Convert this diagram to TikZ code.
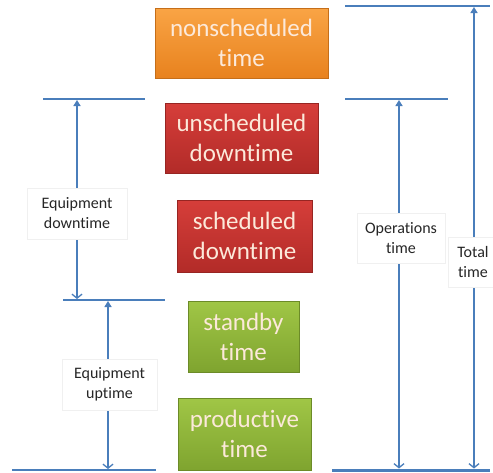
\documentclass[tikz,border=0pt]{standalone}
\usepackage{fontspec}
\setmainfont[RawFeature={-liga;-clig;-calt;-dlig}]{Carlito}
\usetikzlibrary{arrows.meta}
\definecolor{lineblue}{HTML}{4A7EBB}
\definecolor{boxtext}{HTML}{FCE9DA}
\definecolor{labeltext}{HTML}{262626}
\definecolor{orangetop}{HTML}{F9A445}
\definecolor{orangebot}{HTML}{E8821E}
\definecolor{redtop}{HTML}{D63E3A}
\definecolor{redbot}{HTML}{B22B28}
\definecolor{greentop}{HTML}{A0C646}
\definecolor{greenbot}{HTML}{7FA42F}
\begin{document}
\begin{tikzpicture}[x=1pt,y=-1pt,
  timebox/.style={rectangle, inner sep=0pt, align=center, text=boxtext,
    font=\fontsize{25}{30}\selectfont, line width=0.6pt},
  orangebox/.style={timebox, top color=orangetop, bottom color=orangebot, draw=orangebot!85!black},
  redbox/.style={timebox, top color=redtop, bottom color=redbot, draw=redbot!85!black},
  greenbox/.style={timebox, top color=greentop, bottom color=greenbot, draw=greenbot!85!black},
  rule/.style={draw=lineblue, line width=1.5pt},
  dimarrow/.style={draw=lineblue, line width=1.5pt,
    {Triangle[length=6pt,width=7pt]}-{Straight Barb[length=4pt,width=10pt,line width=1.3pt]}},
  dimlabel/.style={rectangle, fill=white, draw=black!6, line width=0.5pt, align=center,
    text=labeltext, font=\fontsize{16}{20}\selectfont, inner sep=0pt}
]
\useasboundingbox[fill=white] (0,0) rectangle (493,472);

% coloured boxes
\node[orangebox, minimum width=173pt, minimum height=70pt] (nonsched) at (241.5,43) {nonscheduled\\time};
\node[redbox, minimum width=153pt, minimum height=70pt] (unsched) at (241.5,138) {unscheduled\\downtime};
\node[redbox, minimum width=135pt, minimum height=72pt] (sched) at (244.5,236) {scheduled\\downtime};
\node[greenbox, minimum width=111pt, minimum height=71pt] (standby) at (243.5,336.5) {standby\\time};
\node[greenbox, minimum width=133pt, minimum height=72pt] (prod) at (244.5,434) {productive\\time};

% rule end points
\coordinate (topL) at (345,6);   \coordinate (topR) at (490,6);
\coordinate (l2L) at (43,99);    \coordinate (l2R) at (145,99);
\coordinate (r2L) at (345,99);   \coordinate (r2R) at (448,99);
\coordinate (l3L) at (63,300);   \coordinate (l3R) at (165,300);
\coordinate (bL) at (12,470);    \coordinate (bR) at (156,470);
\coordinate (rbL) at (332,470);  \coordinate (rbR) at (490,470);

\draw[rule] (topL) -- (topR);
\draw[rule] (l2L) -- (l2R);
\draw[rule] (r2L) -- (r2R);
\draw[rule] (l3L) -- (l3R);
\draw[rule] (bL) -- (bR);
\draw[rule, line width=3pt] (rbL) -- (rbR);

% arrow end points
\coordinate (edT) at (77,100);   \coordinate (edB) at (77,299);
\coordinate (euT) at (108,301);  \coordinate (euB) at (108,469);
\coordinate (opT) at (399,100);  \coordinate (opB) at (399,468.5);
\coordinate (ttT) at (474,7);    \coordinate (ttB) at (474,468.5);

\draw[dimarrow] (edT) -- (edB);
\draw[dimarrow] (euT) -- (euB);
\draw[dimarrow] (opT) -- (opB);
\draw[dimarrow] (ttT) -- (ttB);

% labels
\node[dimlabel, minimum width=100pt, minimum height=51pt] (edlab) at (77,213.5) {Equipment\\downtime};
\node[dimlabel, minimum width=95pt, minimum height=51pt] (eulab) at (109.5,384.5) {Equipment\\uptime};
\node[dimlabel, minimum width=88pt, minimum height=50pt] (oplab) at (401,238) {Operations\\time};
\node[dimlabel, minimum width=50pt, minimum height=50pt] (ttlab) at (473,262) {Total\\time};
\end{tikzpicture}
\end{document}
